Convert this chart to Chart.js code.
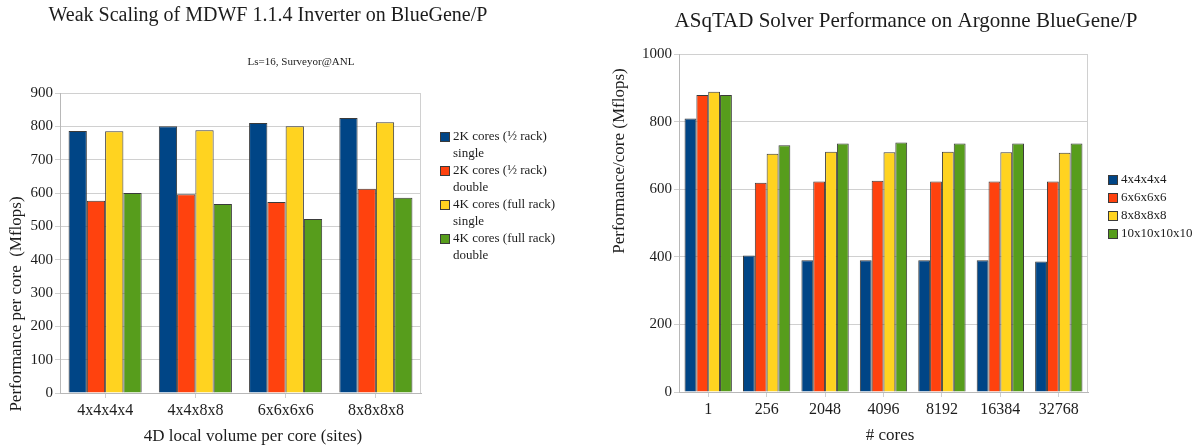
<!DOCTYPE html>
<html>
<head>
<meta charset="utf-8">
<script src="https://cdn.jsdelivr.net/npm/chart.js@4.4.0/dist/chart.umd.min.js"></script>
<style>
  html, body { margin: 0; padding: 0; background: #fff; }
  #wrap { position: relative; width: 1197px; height: 448px; }
  .box { position: absolute; top: 0; height: 448px; }
  #left { left: 0; width: 600px; }
  #right { left: 600px; width: 597px; }
</style>
</head>
<body>
<div id="wrap">
  <div class="box" id="left"><canvas id="weakChart" width="600" height="448"></canvas></div>
  <div class="box" id="right"><canvas id="asqtadChart" width="597" height="448"></canvas></div>
</div>
<script>
// --- data: weak scaling (left chart) ---
const weakVolumes = ["4x4x4x4", "4x4x8x8", "6x6x6x6", "8x8x8x8"];
const weakSeries = [
  ["2K cores (½ rack)", "single"],
  ["2K cores (½ rack)", "double"],
  ["4K cores (full rack)", "single"],
  ["4K cores (full rack)", "double"],
];
const weak2kSingle = [786, 800, 810, 825];
const weak2kDouble = [577, 596, 573, 613];
const weak4kSingle = [785, 788, 800, 812];
const weak4kDouble = [600, 567, 522, 586];
const weakMax = 900;
const weakStep = 100;

// --- data: ASqTAD solver (right chart) ---
const coreCounts = ["1", "256", "2048", "4096", "8192", "16384", "32768"];
const asqtadSeries = ["4x4x4x4", "6x6x6x6", "8x8x8x8", "10x10x10x10"];
const asqtad4 = [809, 404, 390, 390, 390, 390, 386];
const asqtad6 = [879, 619, 623, 625, 623, 623, 623];
const asqtad8 = [888, 705, 711, 709, 711, 709, 708];
const asqtad10 = [879, 730, 735, 738, 735, 735, 735];
const asqtadMax = 1000;
const asqtadStep = 200;

// LibreOffice default palette
const fills = ["#004586", "#ff420e", "#ffd320", "#579d1c"];
const edgeColor = "#3a3a3a";
const gridColor = "#d0d0d0";
const textColor = "#1c1c1c";
const serif = "'Liberation Serif', 'DejaVu Serif', serif";

Chart.defaults.font.family = serif;
Chart.defaults.color = textColor;

// draws titles, axis titles, the right frame line and the legend
const textLayer = {
  id: "textLayer",
  beforeDatasetsDraw(chart) {
    const a = chart.chartArea;
    const ctx = chart.ctx;
    ctx.save();
    ctx.strokeStyle = gridColor;
    ctx.lineWidth = 1;
    ctx.beginPath();
    const x = Math.round(a.right) - 0.5;
    ctx.moveTo(x, a.top);
    ctx.lineTo(x, a.bottom);
    ctx.stroke();
    ctx.restore();
  },
  afterDraw(chart, args, opts) {
    const ctx = chart.ctx;
    ctx.save();
    ctx.fillStyle = textColor;
    ctx.textAlign = "center";
    ctx.textBaseline = "middle";
    (opts.texts || []).forEach((t) => {
      ctx.save();
      ctx.font = t.size + "px " + serif;
      ctx.translate(t.x, t.y);
      if (t.rotate) ctx.rotate(t.rotate);
      ctx.fillText(t.text, 0, 0);
      ctx.restore();
    });
    const lg = opts.legend;
    if (lg) {
      ctx.font = lg.size + "px " + serif;
      ctx.textAlign = "left";
      chart.data.datasets.forEach((ds, i) => {
        const y = lg.y + i * lg.step;
        ctx.fillStyle = ds.backgroundColor;
        ctx.fillRect(lg.x, y - 5, 10, 10);
        ctx.strokeStyle = edgeColor;
        ctx.lineWidth = 1;
        ctx.strokeRect(lg.x + 0.5, y - 4.5, 9, 9);
        ctx.fillStyle = textColor;
        const lines = Array.isArray(ds.label) ? ds.label : [ds.label];
        lines.forEach((ln, k) => ctx.fillText(ln, lg.x + 13, y + k * lg.lineGap));
      });
    }
    ctx.restore();
  },
};

function makeDatasets(labels, series) {
  return series.map((data, i) => ({
    label: labels[i],
    data: data,
    backgroundColor: fills[i],
    borderColor: edgeColor,
    borderWidth: 1,
    categoryPercentage: 0.81,
    barPercentage: 1.0,
  }));
}

function makeScales(max, step, yWidth, xHeight) {
  return {
    x: {
      offset: true,
      grid: { offset: false, drawOnChartArea: false, drawTicks: true, tickLength: 5, color: gridColor },
      border: { color: "#b8b8b8" },
      ticks: { font: { size: 16 }, color: textColor, padding: 3, maxRotation: 0, autoSkip: false },
      afterFit(s) { s.height = xHeight; },
    },
    y: {
      min: 0,
      max: max,
      grid: { color: gridColor, tickLength: 5 },
      border: { color: "#b8b8b8" },
      ticks: {
        stepSize: step,
        font: { size: 15 },
        color: textColor,
        padding: 2,
        callback: function (value) {
          return String(value);
        },
      },
      afterFit(s) { s.width = yWidth; },
    },
  };
}

// 1. Weak scaling chart
new Chart(document.getElementById("weakChart").getContext("2d"), {
  type: "bar",
  data: {
    labels: weakVolumes,
    datasets: makeDatasets(weakSeries, [weak2kSingle, weak2kDouble, weak4kSingle, weak4kDouble]),
  },
  options: {
    responsive: false,
    animation: false,
    layout: { padding: { top: 93, right: 179, left: 0, bottom: 0 } },
    plugins: {
      legend: { display: false },
      tooltip: { enabled: false },
      textLayer: {
        texts: [
          { text: "Weak Scaling of MDWF 1.1.4 Inverter on BlueGene/P", x: 268, y: 16, size: 20 },
          { text: "Ls=16, Surveyor@ANL", x: 301, y: 62, size: 11 },
          { text: "4D local volume per core (sites)", x: 253, y: 437, size: 17 },
          { text: "Performance per core  (Mflops)", x: 17, y: 304, size: 17, rotate: -Math.PI / 2 },
        ],
        legend: { x: 440, y: 137, step: 34, lineGap: 17, size: 13 },
      },
    },
    scales: makeScales(weakMax, weakStep, 60, 55),
  },
  plugins: [textLayer],
});

// 2. ASqTAD solver chart
new Chart(document.getElementById("asqtadChart").getContext("2d"), {
  type: "bar",
  data: {
    labels: coreCounts,
    datasets: makeDatasets(asqtadSeries, [asqtad4, asqtad6, asqtad8, asqtad10]),
  },
  options: {
    responsive: false,
    animation: false,
    layout: { padding: { top: 54, right: 109, left: 0, bottom: 0 } },
    plugins: {
      legend: { display: false },
      tooltip: { enabled: false },
      textLayer: {
        texts: [
          { text: "ASqTAD Solver Performance on Argonne BlueGene/P", x: 306, y: 21, size: 21 },
          { text: "# cores", x: 290, y: 436, size: 17 },
          { text: "Performance/core (Mflops)", x: 20, y: 161, size: 17, rotate: -Math.PI / 2 },
        ],
        legend: { x: 508, y: 180, step: 18, lineGap: 0, size: 13 },
      },
    },
    scales: makeScales(asqtadMax, asqtadStep, 79, 56),
  },
  plugins: [textLayer],
});
</script>
</body>
</html>
